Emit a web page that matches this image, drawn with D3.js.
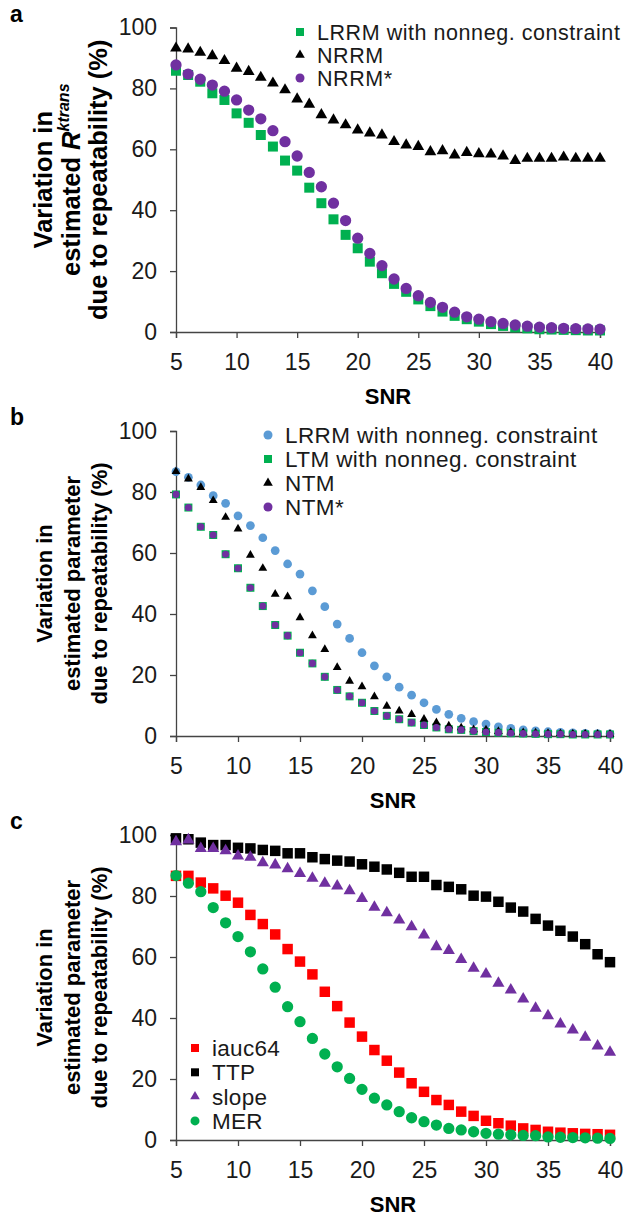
<!DOCTYPE html>
<html>
<head>
<meta charset="utf-8">
<script src="https://cdn.jsdelivr.net/npm/d3@7"></script>
<style>
  body { margin: 0; background: #fff; }
  text { font-family: "Liberation Sans", Arial, sans-serif; }
</style>
</head>
<body>
<svg id="chart" width="639" height="1217"></svg>
<script>
const snr = [5,6,7,8,9,10,11,12,13,14,15,16,17,18,19,20,21,22,23,24,25,26,27,28,29,30,31,32,33,34,35,36,37,38,39,40];
const xTicks = [5, 10, 15, 20, 25, 30, 35, 40];
const yTicks = [0, 20, 40, 60, 80, 100];

// panel a
const aLRRM = [85.8,84.4,82.2,78.4,76.2,71.8,68.7,64.7,60.9,56.3,53.0,47.4,42.3,37.0,31.9,27.5,23.1,19.3,15.8,13.2,10.7,8.5,6.7,5.3,4.2,3.4,2.6,2.0,1.5,1.2,0.9,0.8,0.7,0.6,0.5,0.5];
const aNRRM = [93.2,92.9,91.8,90.7,89.1,86.6,85.5,83.6,81.7,79.5,76.5,74.8,71.3,69.6,68.0,66.3,65.3,64.7,62.5,61.4,60.9,59.2,59.5,58.1,58.9,58.5,58.4,57.8,56.3,57.0,57.0,57.0,57.4,57.0,57.0,57.0];
const aNRRMstar = [87.7,84.7,83.0,81.1,79.1,76.2,72.9,70.0,66.1,62.5,57.8,52.4,47.7,42.3,36.6,30.8,25.8,21.8,17.4,14.3,11.9,9.7,8.1,6.5,5.0,4.2,3.4,2.8,2.3,1.9,1.6,1.4,1.2,1.1,1.0,0.9];

// panel b
const bLRRM = [86.7,84.8,82.3,78.8,76.3,72.2,69.0,65.0,60.8,56.4,53.1,47.6,42.4,36.7,32.0,27.3,23.0,19.4,16.0,13.4,10.9,8.7,7.1,5.8,4.7,3.9,3.0,2.5,2.0,1.7,1.4,1.2,1.0,0.9,0.8,0.7];
const bLTM = [79.2,74.9,68.6,65.9,59.6,55.0,48.6,42.6,36.4,32.9,27.3,23.8,19.4,15.1,13.0,10.9,8.2,6.6,5.5,4.4,3.6,2.8,2.2,2.0,1.6,1.3,1.1,0.9,0.8,0.7,0.6,0.6,0.5,0.5,0.5,0.5];
const bNTM = [86.7,84.3,81.5,77.2,71.7,67.9,59.3,55.0,46.5,45.7,38.8,32.9,28.4,22.5,18.0,16.2,12.9,9.8,8.2,7.1,5.5,4.4,3.3,2.7,2.1,2.0,1.5,1.3,1.1,1.0,0.9,0.8,0.7,0.7,0.6,0.6];
const bNTMstar = [79.2,74.9,68.6,65.9,59.6,55.0,48.6,42.6,36.4,32.9,27.3,23.8,19.4,15.1,13.0,10.9,8.2,6.6,5.5,4.4,3.6,2.8,2.2,2.0,1.6,1.3,1.1,0.9,0.8,0.7,0.6,0.6,0.5,0.5,0.5,0.5];

// panel c
const cIauc = [86.6,86.6,84.4,82.5,80.1,77.8,73.8,70.8,67.4,62.6,58.5,54.3,48.6,43.9,38.5,33.9,29.5,26.0,22.1,18.6,15.8,13.1,11.5,9.3,7.9,6.3,5.5,4.7,3.8,3.3,2.7,2.4,2.2,2.0,1.9,1.7];
const cTTP = [98.9,98.6,97.5,96.7,96.7,95.8,95.6,95.1,94.8,94.0,94.0,92.7,92.1,91.6,91.3,90.4,89.6,88.7,87.6,86.3,86.3,83.6,83.0,82.2,80.1,79.8,78.1,76.2,74.9,72.5,70.3,68.6,66.7,64.2,60.9,58.3];
const cSlope = [97.8,98.4,95.6,95.6,94.8,93.1,92.7,90.9,90.2,88.9,87.4,85.8,84.2,83.3,81.7,79.2,76.3,74.5,72.1,69.9,67.2,63.4,62.1,59.2,56.3,54.4,51.4,49.2,46.2,43.2,40.7,38.0,36.1,33.7,30.8,28.8];
const cMER = [86.7,84.2,81.4,76.2,71.2,66.7,61.7,56.1,50.1,43.7,38.8,33.3,28.2,24.0,20.2,16.6,13.7,11.5,9.3,7.3,6.0,4.9,3.8,3.3,2.7,2.2,1.9,1.7,1.5,1.4,1.0,0.9,0.8,0.7,0.6,0.5];

const GREEN = '#00b050', PURPLE = '#7030a0', BLUE = '#5b9bd5', RED = '#ff0000', BLACK = '#000';

const svg = d3.select('#chart');

const panels = [
  {
    letter: 'a', top: 27.5, bottom: 332, right: 600, titleSize: 25.5,
    title: ['Variation in', 'estimated ', 'due to repeatability (%)'], rk: true,
    series: [
      { name: 'LRRM with nonneg. constraint', values: aLRRM, shape: d3.symbolSquare, size: 100, color: GREEN },
      { name: 'NRRM', values: aNRRM, shape: d3.symbolTriangle, size: 60, color: BLACK },
      { name: 'NRRM*', values: aNRRMstar, shape: d3.symbolCircle, size: 100, color: PURPLE },
    ],
    legend: { x: 300, y: 32, dy: 23, size: 21.5, spacing: 0.55 },
  },
  {
    letter: 'b', top: 431, bottom: 736, right: 610, titleSize: 22,
    title: ['Variation in', 'estimated parameter', 'due to repeatability (%)'],
    series: [
      { name: 'LRRM with nonneg. constraint', values: bLRRM, shape: d3.symbolCircle, size: 60, color: BLUE },
      { name: 'LTM with nonneg. constraint', values: bLTM, shape: d3.symbolSquare, size: 64, color: GREEN },
      { name: 'NTM', values: bNTM, shape: d3.symbolTriangle, size: 34, color: BLACK },
      { name: 'NTM*', values: bNTMstar, shape: d3.symbolCircle, size: 40, color: PURPLE },
    ],
    legend: { x: 268, y: 435, dy: 24, size: 22.5, spacing: 0.4 },
  },
  {
    letter: 'c', top: 835, bottom: 1140, right: 610, titleSize: 22,
    title: ['Variation in', 'estimated parameter', 'due to repeatability (%)'],
    series: [
      { name: 'iauc64', values: cIauc, shape: d3.symbolSquare, size: 110, color: RED },
      { name: 'TTP', values: cTTP, shape: d3.symbolSquare, size: 110, color: BLACK },
      { name: 'slope', values: cSlope, shape: d3.symbolTriangle, size: 64, color: PURPLE },
      { name: 'MER', values: cMER, shape: d3.symbolCircle, size: 100, color: GREEN },
    ],
    legend: { x: 195, y: 1048, dy: 24.3, size: 22.5, spacing: 0.3 },
  },
];

panels.forEach(p => {
  const left = 176;
  const x = d3.scaleLinear().domain([5, 40]).range([left, p.right]);
  const y = d3.scaleLinear().domain([0, 100]).range([p.bottom, p.top]);
  const g = svg.append('g');

  // axes
  const yAxis = g.append('g').attr('transform', `translate(${left},0)`)
    .call(d3.axisLeft(y).tickValues(yTicks).tickSize(6).tickPadding(13));
  const xAxis = g.append('g').attr('transform', `translate(0,${p.bottom})`)
    .call(d3.axisBottom(x).tickValues(xTicks).tickSize(6).tickPadding(16));
  [yAxis, xAxis].forEach(a => {
    a.select('.domain').attr('stroke', '#444').attr('stroke-width', 1.3);
    a.selectAll('.tick line').attr('stroke', '#444').attr('stroke-width', 1.3);
    a.selectAll('.tick text').attr('fill', '#1a1a1a').style('font-size', '23px')
      .style('font-family', '"Liberation Sans", Arial, sans-serif');
  });

  // panel letter
  g.append('text').attr('x', 10).attr('y', p.top - 6).attr('font-size', 23)
    .attr('font-weight', 'bold').text(p.letter);

  // x title
  g.append('text').attr('x', (left + p.right) / 2).attr('y', p.bottom + 72)
    .attr('text-anchor', 'middle').attr('font-size', 22).attr('font-weight', 'bold').text('SNR');

  // y title
  const cy = (p.top + p.bottom) / 2;
  const baselines = [52, 80, 107];
  p.title.forEach((line, i) => {
    const t = g.append('text')
      .attr('transform', `translate(${baselines[i]},${cy}) rotate(-90)`)
      .attr('text-anchor', 'middle').attr('font-size', p.titleSize).attr('font-weight', 'bold');
    if (p.rk && i === 1) {
      t.append('tspan').text(line);
      t.append('tspan').attr('font-style', 'italic').text('R');
      t.append('tspan').attr('font-style', 'italic').attr('font-size', 16)
        .attr('dy', -11).text('ktrans');
    } else {
      t.text(line);
    }
  });

  // points
  p.series.forEach(s => {
    g.append('g').selectAll('path').data(s.values).join('path')
      .attr('transform', (d, i) => `translate(${x(snr[i])},${y(d)})`)
      .attr('d', d3.symbol(s.shape, s.size))
      .attr('fill', s.color);
  });

  // legend
  const lg = g.append('g');
  p.series.forEach((s, i) => {
    const ly = p.legend.y + i * p.legend.dy;
    lg.append('path').attr('transform', `translate(${p.legend.x},${ly})`)
      .attr('d', d3.symbol(s.shape, s.shape === d3.symbolTriangle ? 40 : 64)).attr('fill', s.color);
    lg.append('text').attr('x', p.legend.x + 17).attr('y', ly).attr('dy', '0.36em')
      .attr('font-size', p.legend.size).attr('letter-spacing', p.legend.spacing)
      .attr('fill', '#1a1a1a').text(s.name);
  });
});
</script>
</body>
</html>
